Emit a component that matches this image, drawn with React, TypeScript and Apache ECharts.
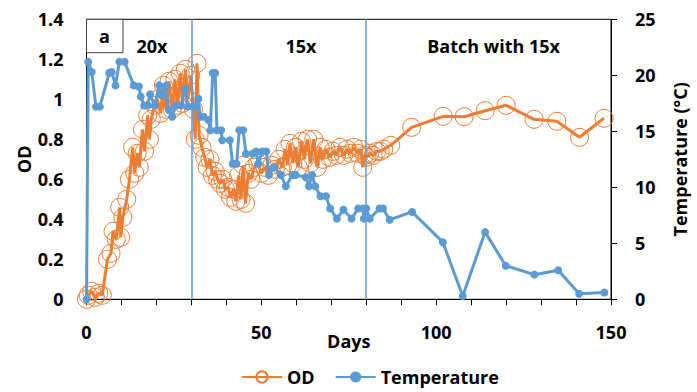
import React, { useEffect, useRef } from "react";
import * as echarts from "echarts";

const odDays = [0, 0.5, 1.5, 2.5, 3.5, 4.5, 6, 7, 7.6, 8.5, 9.5, 9.8, 10.4, 11.5, 12.3, 13.2, 13.8, 14.5, 15.1, 16, 16.6, 17.5, 18, 18.5, 19.5, 20.3, 21.2, 22, 22.7, 23.6, 24.5, 25.3, 26, 26.8, 27.5, 28.3, 29, 29.8, 30.6, 31.1, 31.6, 32.2, 33, 33.8, 34.5, 35.3, 36, 36.8, 37.5, 38.2, 39, 39.7, 40.5, 41.2, 42, 42.7, 43.5, 44.2, 44.8, 45.5, 46.3, 47, 48, 49, 50, 51, 52, 53, 54, 55, 56, 56.8, 57.5, 58.2, 59, 59.8, 60.6, 61.5, 62.3, 63.2, 64, 65, 66, 66.8, 67.6, 68.5, 69.5, 70.5, 71.5, 72.5, 73.5, 74.5, 75.5, 76.5, 77.5, 78.5, 79, 79.5, 80.2, 81, 82, 83, 84, 85, 87, 93, 102, 108, 114, 120, 128, 134.5, 141, 148];
const odValues = [0.0, 0.02, 0.04, 0.01, 0.03, 0.02, 0.2, 0.23, 0.34, 0.3, 0.46, 0.31, 0.41, 0.5, 0.6, 0.76, 0.63, 0.73, 0.66, 0.85, 0.74, 0.92, 0.8, 0.9, 0.97, 1.0, 0.93, 1.07, 0.95, 1.09, 0.95, 1.1, 0.97, 1.13, 0.98, 1.15, 1.0, 1.12, 0.95, 0.8, 1.18, 0.82, 0.76, 0.71, 0.66, 0.7, 0.62, 0.64, 0.6, 0.58, 0.6, 0.55, 0.56, 0.51, 0.55, 0.49, 0.62, 0.5, 0.67, 0.48, 0.63, 0.6, 0.66, 0.68, 0.63, 0.66, 0.62, 0.67, 0.65, 0.7, 0.66, 0.75, 0.67, 0.78, 0.68, 0.76, 0.66, 0.79, 0.7, 0.8, 0.68, 0.8, 0.66, 0.76, 0.7, 0.75, 0.71, 0.74, 0.72, 0.76, 0.72, 0.75, 0.73, 0.76, 0.73, 0.75, 0.66, 0.72, 0.71, 0.73, 0.72, 0.74, 0.74, 0.75, 0.77, 0.86, 0.915, 0.913, 0.943, 0.97, 0.9, 0.89, 0.81, 0.905];

const tempDays = [0, 0.5, 1.5, 2.7, 3.8, 6.5, 7.2, 8.3, 9.4, 10.9, 13.5, 15, 15.5, 16.5, 17.5, 18.2, 19.5, 20.8, 21.5, 22.8, 23.5, 24.5, 25.5, 27, 28.2, 29, 30.3, 31.2, 32, 32.5, 33.5, 34.9, 35.4, 36.1, 36.8, 37.3, 38.5, 38.8, 41, 41.8, 42.9, 43.7, 44.8, 45.6, 47.5, 48.5, 49.1, 50.3, 51.4, 52.2, 53.7, 55.6, 57, 58.9, 59.8, 62.7, 63.6, 64.5, 65.4, 66.9, 68.5, 69.7, 71.6, 73.5, 75.8, 77.7, 79.1, 79.3, 80, 81, 83.8, 84.8, 86.7, 93.1, 101.9, 107.6, 114, 119.9, 128.1, 134.9, 140.9, 148.1];
const tempValues = [0, 21.2, 20.3, 17.2, 17.2, 20.2, 20.3, 19.1, 21.2, 21.2, 19.1, 19.0, 18.1, 17.3, 17.3, 18.3, 17.3, 19.1, 18.2, 19.1, 16.9, 16.3, 17.3, 17.3, 18.8, 17.2, 17.2, 17.2, 17.9, 16.3, 16.3, 16.0, 15.1, 20.2, 20.2, 15.1, 15.1, 14.2, 14.2, 12.1, 12.1, 15.1, 15.1, 13.0, 13.0, 13.2, 12.1, 13.2, 13.2, 11.1, 11.8, 11.1, 10.1, 11.1, 11.1, 10.9, 10.1, 11.1, 10.1, 9.2, 9.2, 8.1, 7.2, 8.0, 7.2, 8.1, 8.1, 7.2, 8.1, 7.2, 8.1, 8.1, 7.1, 7.8, 5.1, 0.3, 6.0, 3.0, 2.2, 2.6, 0.5, 0.6];

const phaseLines = [30, 80];
const phaseLabels = [
  { text: "20x", day: 18.5 },
  { text: "15x", day: 60.6 },
  { text: "Batch with 15x", day: 115 },
];

const ORANGE = "#ED7D31";
const BLUE = "#5B9BD5";
const FONT = "Open Sans";

export default function App() {
  const ref = useRef<HTMLDivElement>(null);
  useEffect(() => {
    document.body.style.margin = "0";
    const chart = echarts.init(ref.current!, null, { renderer: "svg" });
    const gridLeft = 86.5;
    const gridRight = 79.5;
    const gridTop = 19.3;
    const gridBottom = 92.7;
    const plotW = 697 - gridLeft - gridRight;
    const xToPx = (d: number) => gridLeft + (d / 150) * plotW;
    const labelStyle = { fontFamily: FONT, fontWeight: "bold" as const, fontSize: 18, color: "#000" };
    chart.setOption({
      animation: false,
      textStyle: { fontFamily: FONT },
      grid: {
        left: gridLeft,
        right: gridRight,
        top: gridTop,
        bottom: gridBottom,
        show: true,
        borderColor: "#000",
        borderWidth: 1,
      },
      legend: {
        data: ["OD", "Temperature"],
        left: 236,
        top: 363,
        itemWidth: 40,
        itemHeight: 14,
        itemGap: 20,
        textStyle: labelStyle,
      },
      xAxis: {
        type: "value",
        min: 0,
        max: 150,
        interval: 10,
        name: "Days",
        nameLocation: "middle",
        nameGap: 33,
        nameMoveOverlap: false,
        nameTextStyle: labelStyle,
        axisLine: { lineStyle: { color: "#000", width: 1 } },
        axisTick: { show: true, inside: false, length: 6, lineStyle: { color: "#000" } },
        axisLabel: {
          ...labelStyle,
          margin: 24,
          formatter: (v: number) => (v % 50 === 0 ? String(v) : ""),
        },
        splitLine: { show: false },
      },
      yAxis: [
        {
          type: "value",
          min: 0,
          max: 1.4,
          interval: 0.2,
          name: "OD",
          nameLocation: "middle",
          nameRotate: 90,
          nameGap: 54,
          nameMoveOverlap: false,
          nameTextStyle: labelStyle,
          axisLine: { show: true, lineStyle: { color: "#000" } },
          axisTick: { show: false },
          axisLabel: { ...labelStyle, margin: 23 },
          splitLine: { show: false },
        },
        {
          type: "value",
          min: 0,
          max: 25,
          interval: 5,
          position: "right",
          name: "Temperature (°C)",
          nameLocation: "middle",
          nameRotate: 90,
          nameGap: 60,
          nameMoveOverlap: false,
          nameTextStyle: labelStyle,
          axisLine: { show: true, lineStyle: { color: "#000" } },
          axisTick: { show: true, inside: false, length: 6, lineStyle: { color: "#000" } },
          axisLabel: { ...labelStyle, margin: 24 },
          splitLine: { show: false },
        },
      ],
      series: [
        {
          name: "OD",
          type: "line",
          yAxisIndex: 0,
          data: odDays.map((d, i) => [d, odValues[i]]),
          symbol: "circle",
          symbolSize: 18,
          itemStyle: { color: "rgba(255,255,255,0)", borderColor: ORANGE, borderWidth: 1 },
          lineStyle: { color: ORANGE, width: 3 },
          z: 2,
        },
        {
          name: "Temperature",
          type: "line",
          yAxisIndex: 1,
          data: tempDays.map((d, i) => [d, tempValues[i]]),
          symbol: "circle",
          symbolSize: 8,
          itemStyle: { color: BLUE },
          lineStyle: { color: BLUE, width: 3 },
          z: 3,
          markLine: {
            silent: true,
            symbol: "none",
            label: { show: false },
            lineStyle: { color: BLUE, width: 1.5, type: "solid", opacity: 1 },
            emphasis: { disabled: true },
            data: phaseLines.map((d) => ({ xAxis: d })),
          },
        },
      ],
      graphic: [
        {
          type: "rect",
          shape: { x: gridLeft, y: gridTop, width: 36.5, height: 33.4 },
          style: { fill: "#fff", stroke: "#404040", lineWidth: 1 },
          z: 10,
        },
        {
          type: "text",
          x: gridLeft + 18,
          y: gridTop + 16.5,
          style: { text: "a", fill: "#000", align: "center", verticalAlign: "middle", font: `bold 18px "${FONT}"` },
          z: 11,
        },
        ...phaseLabels.map((p) => ({
          type: "text",
          x: xToPx(p.day),
          y: 46,
          style: { text: p.text, fill: "#000", align: "center", verticalAlign: "middle", font: `bold 18px "${FONT}"` },
          z: 11,
        })),
      ],
    });
    return () => chart.dispose();
  }, []);
  return <div ref={ref} style={{ width: 697, height: 392 }} />;
}
